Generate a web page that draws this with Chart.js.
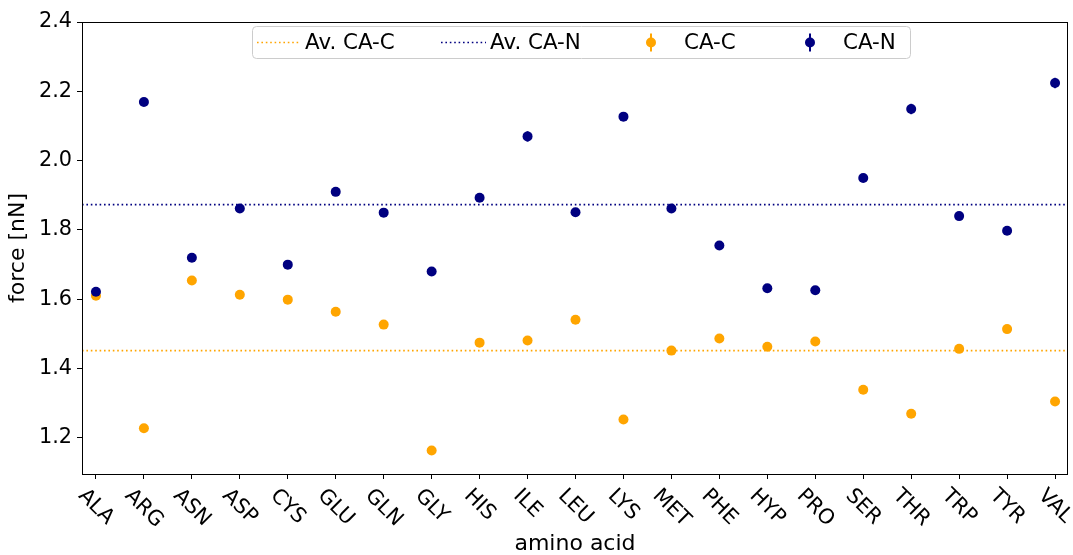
<!DOCTYPE html>
<html><head><meta charset="utf-8">
<script src="https://cdn.jsdelivr.net/npm/chart.js@4/dist/chart.umd.min.js"></script>
<style>html,body{margin:0;padding:0;background:#fff;}</style>
</head><body>
<canvas id="c" width="1073" height="555" style="width:1073px;height:555px;display:block"></canvas>
<script>
// ---- data ----
const categories = ['ALA','ARG','ASN','ASP','CYS','GLU','GLN','GLY','HIS','ILE','LEU','LYS','MET','PHE','HYP','PRO','SER','THR','TRP','TYR','VAL'];
const caC    = [1.610,1.228,1.654,1.613,1.599,1.564,1.527,1.164,1.475,1.481,1.541,1.253,1.452,1.487,1.463,1.478,1.339,1.270,1.457,1.514,1.305];
const caCErr = [0.004,0.004,0.004,0.004,0.004,0.004,0.004,0.004,0.004,0.004,0.004,0.004,0.004,0.004,0.004,0.004,0.004,0.004,0.004,0.004,0.004];
const caN    = [1.622,2.169,1.720,1.862,1.700,1.910,1.850,1.680,1.893,2.070,1.851,2.127,1.862,1.755,1.632,1.626,1.950,2.149,1.840,1.798,2.224];
const caNErr = [0.005,0.005,0.006,0.009,0.005,0.005,0.005,0.005,0.005,0.015,0.005,0.008,0.006,0.005,0.005,0.005,0.005,0.015,0.005,0.005,0.015];
const avgCAC = [1.452];
const avgCAN = [1.873];
const yTickValues = [1.2,1.4,1.6,1.8,2.0,2.2,2.4];
const legendLabels = ['Av. CA-C','Av. CA-N','CA-C','CA-N'];

const ORANGE = '#ffa500';
const NAVY = '#000080';
const FONT = 'DejaVu Sans';
const FS = 20.8;
const FS_TITLE = 22;
const FS_LEG = 21.4;

const overlayPlugin = {
  id: 'overlay',
  beforeDatasetsDraw(chart) {
    const {ctx, chartArea: a} = chart;
    const xs = chart.scales.x, ys = chart.scales.y;
    ctx.save();
    ctx.beginPath(); ctx.rect(a.left, a.top, a.right - a.left, a.bottom - a.top); ctx.clip();
    [[avgCAC[0], ORANGE], [avgCAN[0], NAVY]].forEach(([v, c]) => {
      const y = ys.getPixelForValue(v);
      ctx.strokeStyle = c; ctx.lineWidth = 1.6; ctx.setLineDash([1.6, 2.8]);
      ctx.beginPath(); ctx.moveTo(a.left, y); ctx.lineTo(a.right, y); ctx.stroke();
    });
    ctx.setLineDash([]);
    [[caN, caNErr, NAVY], [caC, caCErr, ORANGE]].forEach(([vals, errs, c]) => {
      ctx.strokeStyle = c; ctx.lineWidth = 2;
      vals.forEach((v, i) => {
        const x = xs.getPixelForValue(i);
        ctx.beginPath();
        ctx.moveTo(x, ys.getPixelForValue(v - errs[i]));
        ctx.lineTo(x, ys.getPixelForValue(v + errs[i]));
        ctx.stroke();
      });
    });
    ctx.restore();
  },
  afterDraw(chart) {
    const {ctx, chartArea: a} = chart;
    const xs = chart.scales.x;
    ctx.save();
    ctx.strokeStyle = '#000'; ctx.lineWidth = 1;
    ctx.strokeRect(a.left + 0.5, a.top + 0.5, a.right - a.left - 1, a.bottom - a.top);
    // rotated x labels
    ctx.font = FS + 'px "' + FONT + '"';
    ctx.fillStyle = '#000';
    ctx.textAlign = 'center'; ctx.textBaseline = 'middle';
    const h = FS * 1.164;
    const top = a.bottom + 10;
    categories.forEach((cat, i) => {
      const x = xs.getPixelForValue(i);
      const w = ctx.measureText(cat).width;
      const side = (w + h) / Math.SQRT2;
      ctx.save();
      ctx.translate(x, top + side / 2);
      ctx.rotate(Math.PI / 4);
      ctx.fillText(cat, 0, 0);
      ctx.restore();
    });
    // legend
    const bx = 252.5, by = 26.5, bw = 658, bh = 32, r = 4;
    ctx.beginPath();
    ctx.moveTo(bx + r, by); ctx.lineTo(bx + bw - r, by); ctx.quadraticCurveTo(bx + bw, by, bx + bw, by + r);
    ctx.lineTo(bx + bw, by + bh - r); ctx.quadraticCurveTo(bx + bw, by + bh, bx + bw - r, by + bh);
    ctx.lineTo(bx + r, by + bh); ctx.quadraticCurveTo(bx, by + bh, bx, by + bh - r);
    ctx.lineTo(bx, by + r); ctx.quadraticCurveTo(bx, by, bx + r, by);
    ctx.closePath();
    ctx.fillStyle = 'rgba(255,255,255,0.8)'; ctx.fill();
    ctx.strokeStyle = '#cccccc'; ctx.lineWidth = 1; ctx.stroke();
    const cy = by + bh / 2;
    ctx.font = FS_LEG + 'px "' + FONT + '"';
    [[257, 300, ORANGE, 305, legendLabels[0]], [441, 486, NAVY, 490, legendLabels[1]]].forEach(([x0, x1, c, tx, t]) => {
      ctx.strokeStyle = c; ctx.lineWidth = 1.6; ctx.setLineDash([1.6, 2.8]);
      ctx.beginPath(); ctx.moveTo(x0, cy); ctx.lineTo(x1, cy); ctx.stroke();
      ctx.setLineDash([]);
      ctx.fillStyle = '#000'; ctx.textAlign = 'left'; ctx.textBaseline = 'middle';
      ctx.fillText(t, tx, cy + 1);
    });
    [[651, ORANGE, 684, legendLabels[2]], [810, NAVY, 843, legendLabels[3]]].forEach(([mx, c, tx, t]) => {
      ctx.strokeStyle = c; ctx.lineWidth = 2;
      ctx.beginPath(); ctx.moveTo(mx, cy - 9); ctx.lineTo(mx, cy + 9); ctx.stroke();
      ctx.fillStyle = c; ctx.beginPath(); ctx.arc(mx, cy, 5, 0, Math.PI * 2); ctx.fill();
      ctx.fillStyle = '#000'; ctx.textAlign = 'left'; ctx.textBaseline = 'middle';
      ctx.fillText(t, tx, cy + 1);
    });
    ctx.restore();
  }
};

const toPts = arr => arr.map((v, i) => ({x: i, y: v}));

new Chart(document.getElementById('c'), {
  type: 'scatter',
  data: {
    datasets: [
      {label: 'CA-N', data: toPts(caN), backgroundColor: NAVY, borderWidth: 0, pointRadius: 5, pointHoverRadius: 5},
      {label: 'CA-C', data: toPts(caC), backgroundColor: ORANGE, borderWidth: 0, pointRadius: 5, pointHoverRadius: 5}
    ]
  },
  options: {
    responsive: false,
    animation: false,
    devicePixelRatio: 1,
    events: [],
    layout: {padding: {top: 22, right: 1, left: 0, bottom: 0}},
    plugins: {legend: {display: false}, tooltip: {enabled: false}},
    scales: {
      x: {
        type: 'linear', min: -0.291, max: 20.27,
        afterBuildTicks: s => { s.ticks = categories.map((_, i) => ({value: i})); },
        afterFit: s => { s.height = 81; },
        ticks: {display: false},
        grid: {drawOnChartArea: false, drawTicks: true, tickLength: 5, color: '#000', tickWidth: 1},
        border: {display: false},
        title: {display: true, text: 'amino acid', color: '#000', font: {family: FONT, size: FS_TITLE, lineHeight: 1}, padding: {top: 0, bottom: 0}}
      },
      y: {
        type: 'linear', min: 1.096, max: 2.4,
        afterBuildTicks: s => { s.ticks = yTickValues.map(v => ({value: v})); },
        afterFit: s => { s.width = 82; },
        ticks: {color: '#000', font: {family: FONT, size: FS}, padding: 5, callback: v => Number(v).toFixed(1)},
        grid: {drawOnChartArea: false, drawTicks: true, tickLength: 5, color: '#000', tickWidth: 1},
        border: {display: false},
        title: {display: true, text: 'force [nN]', color: '#000', font: {family: FONT, size: FS_TITLE, lineHeight: 1}, padding: {top: 7, bottom: 7}}
      }
    }
  },
  plugins: [overlayPlugin]
});
</script>
</body></html>
